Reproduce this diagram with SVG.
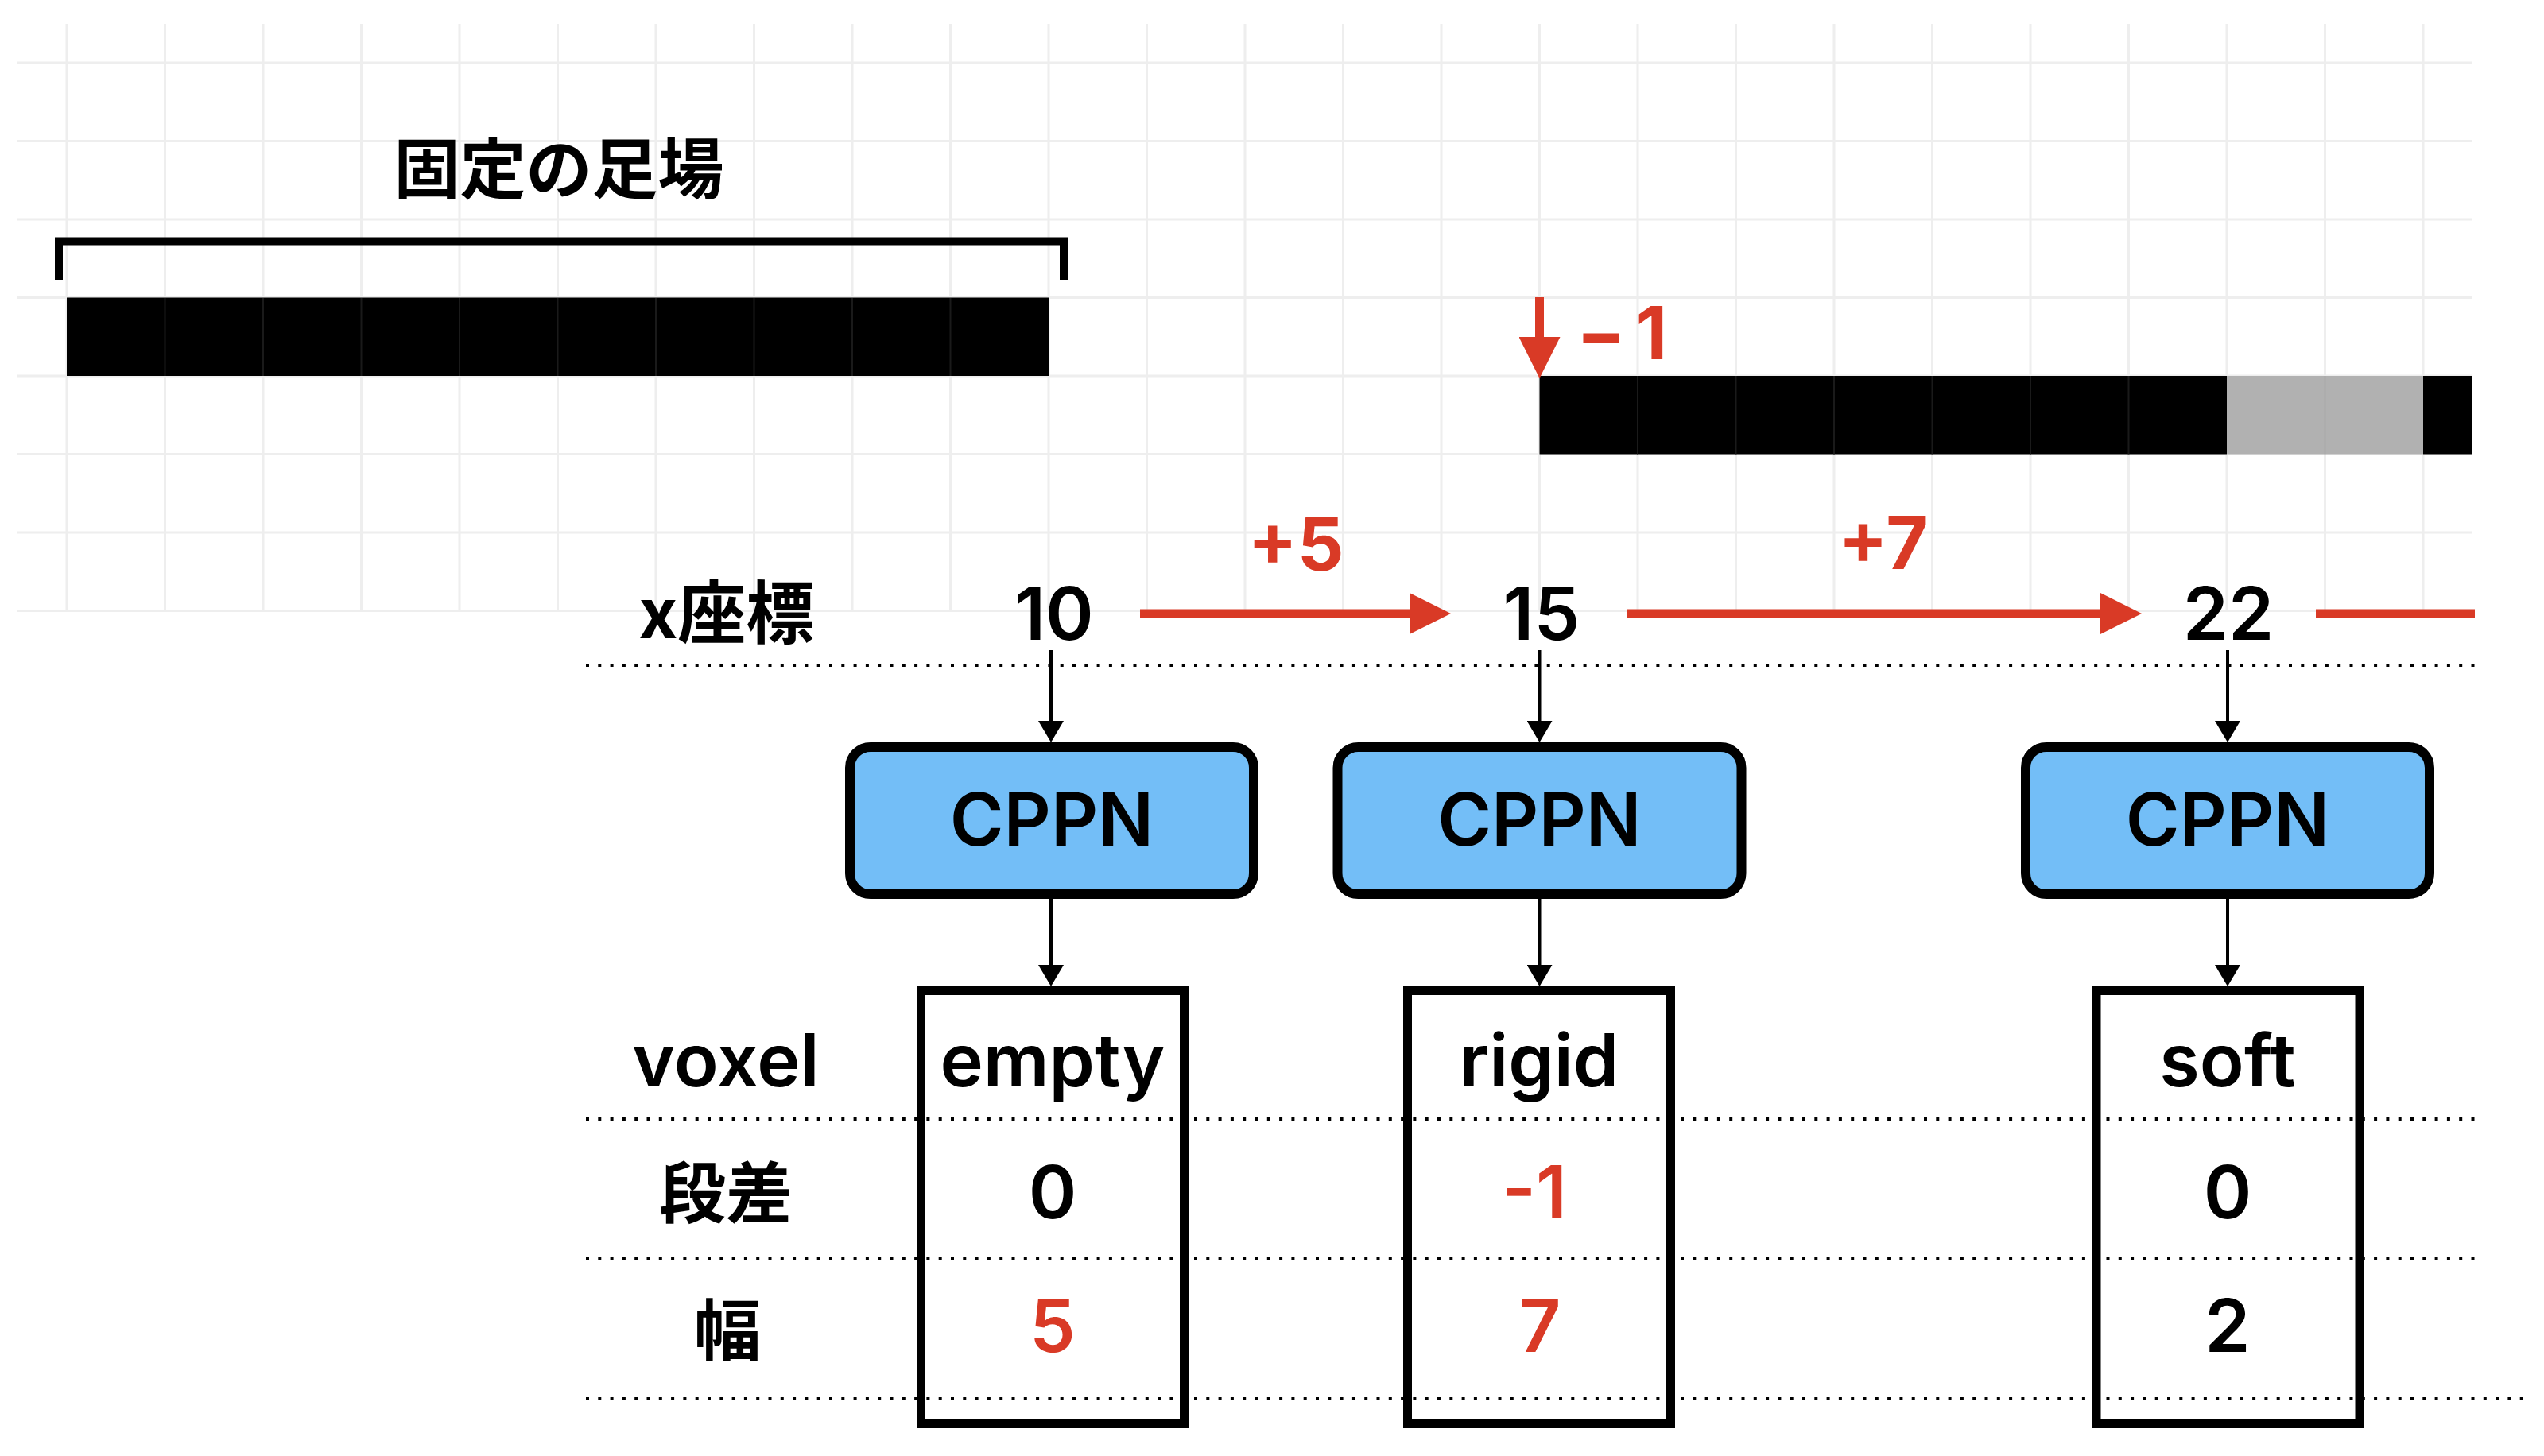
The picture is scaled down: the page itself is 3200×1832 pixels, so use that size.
<svg xmlns="http://www.w3.org/2000/svg" width="3200" height="1832" viewBox="0 0 3200 1832">
  <style>
    .grid { stroke: #EEEEEE; stroke-width: 3; fill: none; }
    .sep { stroke: #1A1A1A; stroke-width: 2; fill: none; }
    .lat { font-family: Inter, "Liberation Sans", Arial, sans-serif; font-weight: 600; font-size: 92px; text-anchor: middle; fill: #000; }
    .red { fill: #D93A26; }
    .bold { font-weight: 700; }
    .cjk { font-family: "Noto Sans CJK JP", "Noto Sans CJK SC", sans-serif; font-weight: 700; text-anchor: middle; fill: #000; }
    .dot { stroke: #000; stroke-width: 4; stroke-dasharray: 4 11.3; fill: none; }
    .cppn { fill: #73BEF7; stroke: #000; stroke-width: 12; }
    .vox { fill: none; stroke: #000; stroke-width: 11; }
    .conn { stroke: #000; stroke-width: 4; fill: none; }
    .rconn { stroke: #D93A26; stroke-width: 11; fill: none; }
  </style>
  <defs>
    <marker id="blackHead" markerUnits="userSpaceOnUse" markerWidth="27" markerHeight="32" viewBox="0 0 27 32" refX="0" refY="16" orient="auto">
      <path d="M0,0 L27,16 L0,32 Z" fill="#000"/>
    </marker>
    <marker id="redHead" markerUnits="userSpaceOnUse" markerWidth="52" markerHeight="52" viewBox="0 0 52 52" refX="0" refY="26" orient="auto">
      <path d="M0,0 L52,26 L0,52 Z" fill="#D93A26"/>
    </marker>
  </defs>

  <rect width="3200" height="1832" fill="#FFFFFF"/>

  <!-- background grid -->
  <g id="grid">
    <path class="grid" d="M84 30V770 M207.5 30V770 M331 30V770 M454.5 30V770 M578 30V770 M701.5 30V770 M825 30V770 M948.5 30V770 M1072 30V770 M1195.5 30V770 M1319 30V770 M1442.5 30V770 M1566 30V770 M1689.5 30V770 M1813 30V770 M1936.5 30V770 M2060 30V770 M2183.5 30V770 M2307 30V770 M2430.5 30V770 M2554 30V770 M2677.5 30V770 M2801 30V770 M2924.5 30V770 M3048 30V770"/>
    <path class="grid" d="M22 79H3110 M22 177.5H3110 M22 276H3110 M22 374.5H3110 M22 473H3110 M22 571.5H3110 M22 670H3110 M22 768.5H3110"/>
  </g>

  <!-- fixed scaffold bar -->
  <g id="scaffold">
    <rect x="84" y="374.5" width="1235" height="98.5" fill="#000"/>
    <path class="sep" d="M207.5 375V473 M331 375V473 M454.5 375V473 M578 375V473 M701.5 375V473 M825 375V473 M948.5 375V473 M1072 375V473 M1195.5 375V473"/>
    <path d="M74 352V303.6H1338V352" fill="none" stroke="#000" stroke-width="10"/>
    <text class="cjk" x="703" y="243" font-size="83">固定の足場</text>
  </g>

  <!-- generated bar -->
  <g id="terrain">
    <rect x="1936.5" y="473" width="864.5" height="98.5" fill="#000"/>
    <rect x="2801" y="473" width="247" height="98.5" fill="#B1B1B1"/>
    <rect x="3048" y="473" width="61" height="98.5" fill="#000"/>
    <path class="sep" d="M2060 473V571.5 M2183.5 473V571.5 M2307 473V571.5 M2430.5 473V571.5 M2554 473V571.5 M2677.5 473V571.5"/>
    <path d="M2924.5 473V571.5" stroke="#A9A9A9" stroke-width="2"/>
  </g>

  <!-- dotted rule lines -->
  <g id="rules">
    <path class="dot" d="M737 837H3118"/>
    <path class="dot" d="M737 1408H3118"/>
    <path class="dot" d="M737 1584H3118"/>
    <path class="dot" d="M737 1760H3178"/>
  </g>

  <!-- row labels -->
  <g id="labels">
    <text class="cjk" x="914" y="803" font-size="86">x座標</text>
    <text class="lat" x="913" y="1367">voxel</text>
    <text class="cjk" x="913" y="1532" font-size="84">段差</text>
    <text class="cjk" x="915" y="1705" font-size="84">幅</text>
  </g>

  <!-- x coordinates -->
  <g id="coords">
    <text class="lat" x="1326" y="805">10</text>
    <text class="lat" x="1939" y="805">15</text>
    <text class="lat" x="2803" y="805">22</text>
  </g>

  <!-- connectors -->
  <g id="connectors">
    <line class="rconn" x1="1936.5" y1="374" x2="1936.5" y2="424" marker-end="url(#redHead)"/>
    <line class="rconn" x1="1434" y1="772" x2="1773" y2="772" marker-end="url(#redHead)"/>
    <line class="rconn" x1="2047" y1="772" x2="2642" y2="772" marker-end="url(#redHead)"/>
    <line class="rconn" x1="2913" y1="772" x2="3113" y2="772"/>
    <line class="conn" x1="1322" y1="818" x2="1322" y2="907" marker-end="url(#blackHead)"/>
    <line class="conn" x1="1936.5" y1="818" x2="1936.5" y2="907" marker-end="url(#blackHead)"/>
    <line class="conn" x1="2802" y1="818" x2="2802" y2="907" marker-end="url(#blackHead)"/>
    <line class="conn" x1="1322" y1="1131" x2="1322" y2="1214" marker-end="url(#blackHead)"/>
    <line class="conn" x1="1936.5" y1="1131" x2="1936.5" y2="1214" marker-end="url(#blackHead)"/>
    <line class="conn" x1="2802" y1="1131" x2="2802" y2="1214" marker-end="url(#blackHead)"/>
  </g>

  <!-- red change labels -->
  <g id="deltas">
    <text class="lat red bold" x="1630" y="718">+5</text>
    <text class="lat red bold" x="2369" y="716">+7</text>
    <text class="lat red bold" x="1983" y="452" style="text-anchor:start" letter-spacing="12">−1</text>
  </g>

  <!-- CPPN nodes -->
  <g id="cppn1">
    <rect class="cppn" x="1069" y="940" width="508" height="185" rx="26"/>
    <text class="lat" x="1323" y="1064">CPPN</text>
  </g>
  <g id="cppn2">
    <rect class="cppn" x="1682.5" y="940" width="508" height="185" rx="26"/>
    <text class="lat" x="1936.5" y="1064">CPPN</text>
  </g>
  <g id="cppn3">
    <rect class="cppn" x="2548" y="940" width="508" height="185" rx="26"/>
    <text class="lat" x="2802" y="1064">CPPN</text>
  </g>

  <!-- voxel output columns -->
  <g id="out1">
    <rect class="vox" x="1158.5" y="1246.5" width="331" height="545"/>
    <text class="lat" x="1324" y="1367">empty</text>
    <text class="lat" x="1324" y="1533">0</text>
    <text class="lat red" x="1324" y="1701">5</text>
  </g>
  <g id="out2">
    <rect class="vox" x="1770.5" y="1246.5" width="331" height="545"/>
    <text class="lat" x="1936" y="1367">rigid</text>
    <text class="lat red" x="1930" y="1533">-1</text>
    <text class="lat red" x="1937" y="1701">7</text>
  </g>
  <g id="out3">
    <rect class="vox" x="2637" y="1246.5" width="331" height="545"/>
    <text class="lat" x="2802" y="1367">soft</text>
    <text class="lat" x="2802" y="1533">0</text>
    <text class="lat" x="2802" y="1701">2</text>
  </g>
</svg>
